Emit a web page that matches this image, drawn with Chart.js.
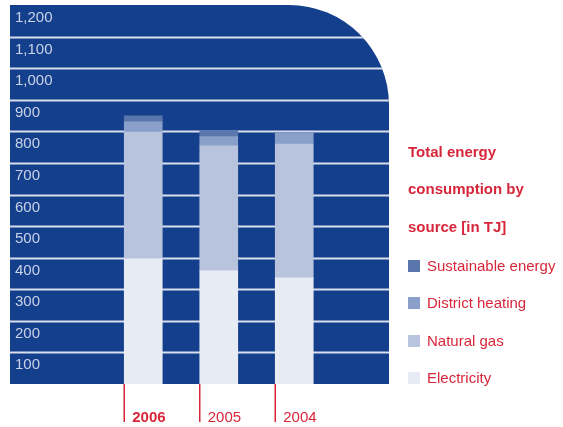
<!DOCTYPE html>
<html>
<head>
<meta charset="utf-8">
<style>
  html, body { margin: 0; padding: 0; background: #ffffff; }
  #wrap { width: 563px; height: 427px; position: relative; }
</style>
<script src="https://cdn.jsdelivr.net/npm/chart.js@4"></script>
</head>
<body>
<div id="wrap"><canvas id="chart" width="563" height="427"></canvas></div>
<script>
// Energy consumption per year, in TJ, stacked by source
const years = ['2006', '2005', '2004'];
const electricity = [396, 358, 336];
const naturalGas = [402, 396, 424];
const districtHeating = [32, 29, 35];
const sustainableEnergy = [19, 19, 0];

const yTicks = [100, 200, 300, 400, 500, 600, 700, 800, 900, 1000, 1100, 1200];
const yTickLabels = ['100', '200', '300', '400', '500', '600', '700', '800', '900', '1,000', '1,100', '1,200'];

const legendTitle = ['Total energy', 'consumption by', 'source [in TJ]'];

const NAVY = '#143f8c';
const RED = '#d7263a';
const GRID = '#d9dfed';
const TICK_TEXT = '#c9d2e7';
const FONT = '"Liberation Sans", Arial, sans-serif';
const BAR_W = 38;

const toPoints = arr => arr.map((v, i) => ({ x: i, y: v }));

// Navy panel with a rounded top-right corner, plus the horizontal grid lines
const panelPlugin = {
  id: 'panel',
  beforeDatasetsDraw(chart) {
    const { ctx, chartArea: a, scales: { y } } = chart;
    const r = 100;
    ctx.save();
    ctx.beginPath();
    ctx.moveTo(a.left, a.top);
    ctx.lineTo(a.right - r, a.top);
    ctx.arcTo(a.right, a.top, a.right, a.top + r, r);
    ctx.lineTo(a.right, a.bottom);
    ctx.lineTo(a.left, a.bottom);
    ctx.closePath();
    ctx.fillStyle = NAVY;
    ctx.fill();
    ctx.clip();
    ctx.strokeStyle = GRID;
    ctx.lineWidth = 2;
    yTicks.forEach(v => {
      if (v >= y.max) return;
      const py = Math.round(y.getPixelForValue(v)) + 0.5;
      ctx.beginPath();
      ctx.moveTo(a.left, py);
      ctx.lineTo(a.right, py);
      ctx.stroke();
    });
    ctx.restore();
  },
  afterDraw(chart) {
    const { ctx, chartArea: a, scales: { x, y } } = chart;
    ctx.save();

    // value labels, sitting just under their grid line
    ctx.font = '15px ' + FONT;
    ctx.fillStyle = TICK_TEXT;
    ctx.textAlign = 'left';
    ctx.textBaseline = 'alphabetic';
    yTicks.forEach((v, i) => {
      ctx.fillText(yTickLabels[i], a.left + 5, y.getPixelForValue(v) + 17);
    });

    // year markers under the panel
    years.forEach((yr, i) => {
      const left = x.getPixelForValue(i) - BAR_W / 2;
      ctx.strokeStyle = RED;
      ctx.lineWidth = 1.5;
      ctx.beginPath();
      ctx.moveTo(left, a.bottom);
      ctx.lineTo(left, a.bottom + 38);
      ctx.stroke();
      ctx.fillStyle = RED;
      ctx.font = (i === 0 ? 'bold ' : '') + '15px ' + FONT;
      ctx.fillText(yr, left + 8, a.bottom + 37.5);
    });

    // legend
    const lx = 408;
    ctx.fillStyle = RED;
    ctx.font = 'bold 15px ' + FONT;
    ctx.textBaseline = 'middle';
    const titleY = [153, 190, 228];
    legendTitle.forEach((t, i) => ctx.fillText(t, lx, titleY[i]));

    const itemY = [266, 303, 341, 378];
    const ds = chart.data.datasets.slice().reverse();
    ctx.font = '15px ' + FONT;
    ds.forEach((d, i) => {
      ctx.fillStyle = d.backgroundColor;
      ctx.fillRect(lx, itemY[i] - 6, 12, 12);
      ctx.fillStyle = RED;
      ctx.fillText(d.label, lx + 19, itemY[i] + 1);
    });
    ctx.restore();
  }
};

new Chart(document.getElementById('chart'), {
  type: 'bar',
  data: {
    datasets: [
      { label: 'Electricity', data: toPoints(electricity), backgroundColor: '#e6ebf4' },
      { label: 'Natural gas', data: toPoints(naturalGas), backgroundColor: '#b8c4dd' },
      { label: 'District heating', data: toPoints(districtHeating), backgroundColor: '#8a9fc9' },
      { label: 'Sustainable energy', data: toPoints(sustainableEnergy), backgroundColor: '#5a76ad' }
    ]
  },
  options: {
    responsive: false,
    animation: false,
    devicePixelRatio: 1,
    layout: { padding: { left: 10, top: 5, right: 174, bottom: 43 } },
    datasets: { bar: { barThickness: BAR_W, borderWidth: 0, borderSkipped: false } },
    plugins: { legend: { display: false }, tooltip: { enabled: false } },
    scales: {
      x: { type: 'linear', min: -1.765, max: 3.255, offset: false, stacked: true, display: false },
      y: { min: 0, max: 1200, stacked: true, display: false }
    }
  },
  plugins: [panelPlugin]
});
</script>
</body>
</html>
